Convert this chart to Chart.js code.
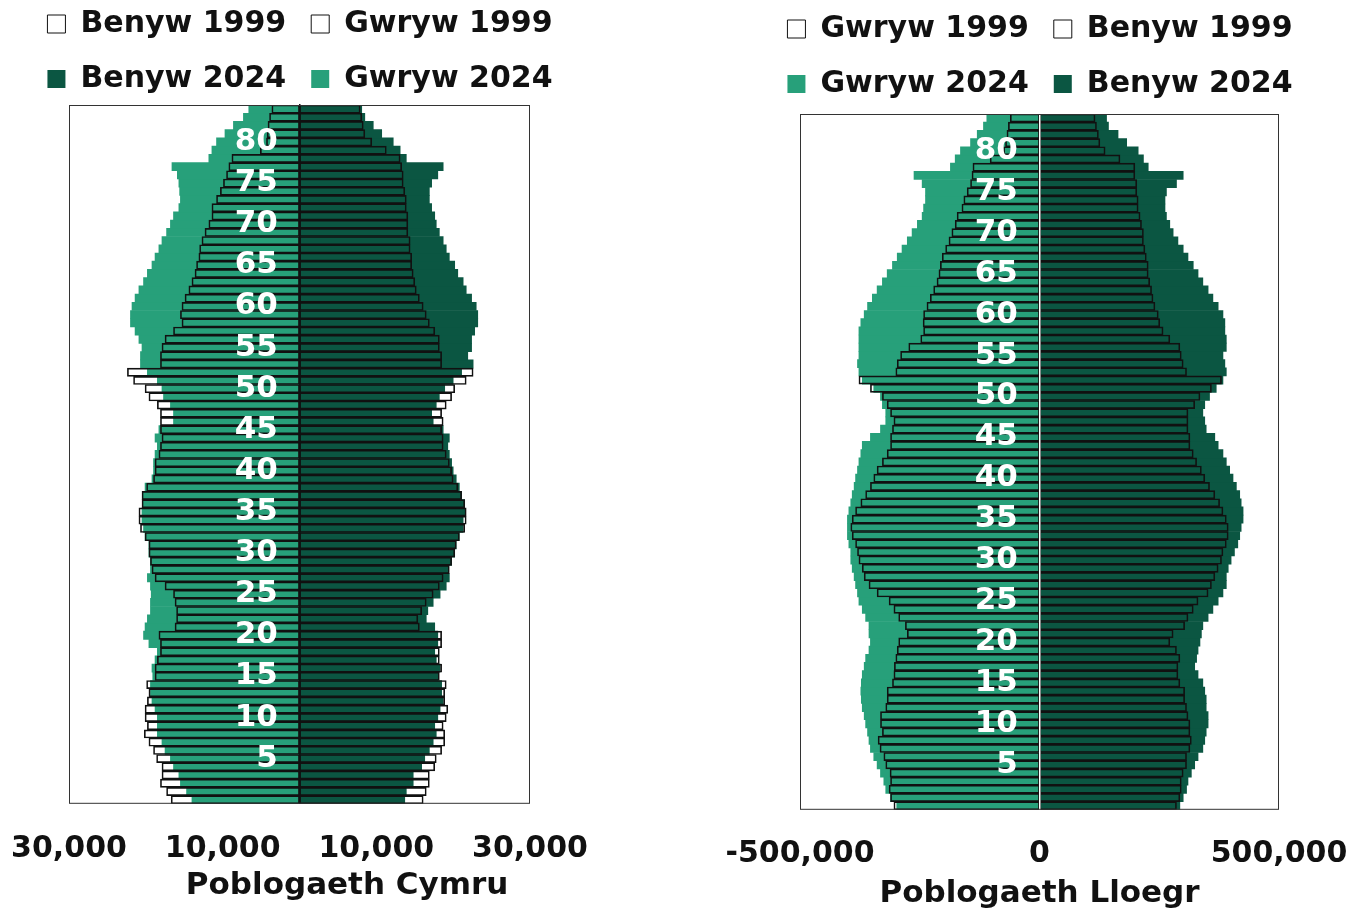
<!DOCTYPE html>
<html>
<head>
<meta charset="utf-8">
<script src="https://cdn.jsdelivr.net/npm/chart.js@4.4.1/dist/chart.umd.min.js"></script>
<style>
  body { margin: 0; width: 1366px; height: 915px; overflow: hidden; background: #fff; }
  #walesChart { position: absolute; left: 0; top: -16px; }
  #englandChart { position: absolute; left: 714px; top: -11px; }
</style>
</head>
<body>
<canvas id="walesChart" width="600" height="921"></canvas>
<canvas id="englandChart" width="652" height="924"></canvas>
<script>
// ages 0..84, bottom to top
var ages = [0,1,2,3,4,5,6,7,8,9,10,11,12,13,14,15,16,17,18,19,20,21,22,23,24,25,26,27,28,29,
  30,31,32,33,34,35,36,37,38,39,40,41,42,43,44,45,46,47,48,49,50,51,52,53,54,55,56,57,58,59,
  60,61,62,63,64,65,66,67,68,69,70,71,72,73,74,75,76,77,78,79,80,81,82,83,84];
var ageTicks = [5,10,15,20,25,30,35,40,45,50,55,60,65,70,75,80];

// Cymru (Wales)
var walesMale2024 = [-14000,-14700,-15500,-15700,-16400,-16800,-17500,-17900,-18500,-18500,
  -18500,-18800,-19200,-19400,-19400,-19100,-19200,-18800,-18500,-19600,
  -20300,-20100,-19800,-19400,-19400,-19300,-19400,-19800,-19400,-19400,
  -19600,-19600,-20100,-20300,-20500,-20500,-20400,-20400,-20100,-19200,
  -19000,-19000,-18800,-18500,-18800,-18300,-16400,-16400,-16800,-17700,
  -17900,-18500,-19800,-20700,-20700,-20500,-20900,-21400,-22000,-22000,
  -21800,-21400,-20900,-20300,-19800,-19200,-18800,-18300,-17900,-17300,
  -16800,-16400,-15700,-15500,-15600,-15700,-15900,-16600,-11800,-11400,
  -10800,-9700,-8600,-7300,-6600];
var walesFemale2024 = [13700,13900,14800,14800,15900,16300,16900,17400,17800,17600,
  18000,18300,18700,18500,18500,18000,18300,17800,17600,18000,
  18000,17600,16500,16700,17400,18300,19100,19500,19300,19800,
  20200,20400,20800,21300,21300,21500,21500,21100,20800,20400,
  20000,19800,19500,19300,19500,18700,17400,17200,17800,18200,
  18900,20000,21100,22600,21900,22400,22400,22800,23200,23200,
  23000,22400,21700,21300,20600,20200,19500,19100,18700,18200,
  17800,17600,17200,16900,16900,17200,18000,18700,13900,13100,
  12200,10700,9600,8500,8100];
var walesMale1999 = [-16700,-17300,-18100,-17900,-17900,-18600,-19000,-19600,-20200,-19800,
  -20100,-20100,-19800,-19600,-19900,-18800,-18800,-18500,-18100,-18100,
  -18300,-16200,-16000,-16000,-16200,-16400,-17500,-18800,-19200,-19400,
  -19600,-19600,-20100,-20700,-20900,-20900,-20500,-20500,-19900,-19000,
  -18800,-18800,-18300,-18100,-17900,-18100,-18100,-18100,-18500,-19600,
  -20100,-21600,-22400,-18100,-18100,-17900,-17500,-16400,-15300,-15500,
  -15300,-14900,-14400,-14000,-13600,-13400,-13100,-13000,-12700,-12300,
  -11800,-11400,-11400,-10800,-10300,-9900,-9500,-9200,-8800,-5100,
  -4300,-4200,-4100,-3900,-3600];
var walesFemale1999 = [16100,16500,16900,16900,17600,17800,18500,18900,18900,18700,
  19100,19300,18900,18900,19100,18200,18500,18200,18200,18500,
  18500,15600,15400,15900,16500,17400,18200,18700,19500,19800,
  20200,20400,20800,21500,21700,21700,21500,21100,20600,20000,
  19800,19500,19100,18700,18700,18500,18700,18500,19100,19800,
  20200,21700,22600,18500,18500,18200,18200,17600,16900,16500,
  16100,15600,15200,15000,14800,14600,14600,14400,14400,14100,
  14100,14100,13900,13900,13700,13500,13500,13300,13100,11300,
  9400,8500,8300,8100,7900];

// Lloegr (England)
var englandMale2024 = [-298000,-311000,-321000,-325000,-332000,-339000,-346000,-353000,-356000,-359000,
  -363000,-366000,-370000,-372000,-373000,-372000,-370000,-366000,-363000,-356000,
  -353000,-356000,-356000,-363000,-370000,-377000,-380000,-384000,-387000,-391000,
  -394000,-394000,-398000,-401000,-401000,-401000,-398000,-394000,-391000,-387000,
  -384000,-380000,-377000,-373000,-370000,-353000,-332000,-321000,-321000,-328000,
  -332000,-346000,-370000,-377000,-380000,-377000,-377000,-377000,-377000,-373000,
  -366000,-359000,-349000,-339000,-328000,-318000,-307000,-297000,-287000,-276000,
  -266000,-255000,-245000,-242000,-238000,-238000,-245000,-262000,-186000,-176000,
  -165000,-144000,-130000,-117000,-110000];
var englandFemale2024 = [293000,300000,307000,310000,317000,324000,331000,341000,345000,348000,
  352000,352000,348000,348000,345000,341000,331000,324000,328000,331000,
  335000,338000,341000,352000,362000,373000,383000,390000,390000,394000,
  400000,407000,414000,418000,421000,425000,425000,421000,418000,411000,
  404000,397000,390000,383000,373000,366000,348000,345000,341000,345000,
  355000,369000,383000,390000,387000,383000,390000,390000,387000,387000,
  383000,373000,362000,352000,341000,331000,321000,310000,300000,289000,
  279000,272000,265000,262000,262000,265000,286000,300000,227000,217000,
  206000,182000,164000,144000,140000];
var englandMale1999 = [-304000,-311000,-314000,-311000,-312000,-321000,-325000,-333000,-337000,-328000,
  -332000,-332000,-321000,-318000,-318000,-307000,-304000,-303000,-300000,-297000,
  -294000,-276000,-280000,-294000,-304000,-314000,-339000,-356000,-366000,-370000,
  -377000,-380000,-384000,-391000,-394000,-391000,-384000,-373000,-363000,-353000,
  -346000,-339000,-328000,-318000,-311000,-311000,-307000,-304000,-311000,-318000,
  -328000,-353000,-377000,-300000,-297000,-290000,-273000,-248000,-242000,-243000,
  -242000,-235000,-228000,-221000,-214000,-210000,-207000,-203000,-196000,-189000,
  -183000,-176000,-172000,-162000,-158000,-151000,-144000,-141000,-139000,-103000,
  -75000,-71000,-68000,-65000,-61000];
var englandFemale1999 = [286000,293000,296000,296000,300000,307000,307000,314000,317000,314000,
  314000,310000,307000,303000,303000,293000,289000,289000,293000,286000,
  272000,279000,303000,310000,321000,331000,352000,359000,366000,373000,
  380000,383000,390000,394000,394000,390000,383000,376000,366000,355000,
  345000,338000,328000,321000,314000,314000,310000,310000,310000,324000,
  335000,359000,380000,307000,300000,296000,293000,272000,258000,251000,
  248000,241000,237000,234000,230000,227000,227000,223000,220000,217000,
  217000,213000,210000,206000,206000,203000,203000,199000,199000,168000,
  137000,126000,123000,119000,116000];

var walesXTicks = [-30000, -10000, 10000, 30000];
var englandXTicks = [-500000, 0, 500000];

var LIGHT = '#27a07a';
var DARK = '#0b5642';
Chart.defaults.font.family = "'DejaVu Sans', sans-serif";

function outline(label, data) {
  return { label: label, data: data, backgroundColor: 'rgba(255,255,255,0)', borderColor: '#111', borderWidth: 1, borderSkipped: false };
}
function filled(label, data, color) {
  return { label: label, data: data, backgroundColor: color, borderWidth: 0 };
}

// box round the plot area
var frame = {
  id: 'frame',
  afterDraw: function(chart) {
    var a = chart.chartArea, ctx = chart.ctx;
    ctx.save();
    ctx.strokeStyle = '#333';
    ctx.lineWidth = 1;
    ctx.strokeRect(a.left + 0.5, a.top + 0.5, a.width - 1, a.height - 1);
    ctx.restore();
  }
};

function legendGap(px) {
  return {
    id: 'legendGap',
    beforeInit: function(chart) {
      var fit = chart.legend.fit;
      chart.legend.fit = function() { fit.call(this); this.height += px; };
    }
  };
}

function pyramid(id, o) {
  return new Chart(id, {
    type: 'bar',
    data: { labels: ages, datasets: o.datasets },
    options: {
      indexAxis: 'y',
      responsive: false,
      animation: false,
      datasets: { bar: { grouped: false, categoryPercentage: 1, barPercentage: 1 } },
      plugins: {
        tooltip: { enabled: false },
        legend: {
          position: 'top',
          labels: { color: '#111', font: { size: 30, weight: 'bold' }, boxWidth: 18, boxHeight: 18, padding: 25 }
        }
      },
      scales: {
        x: {
          min: o.min, max: o.max,
          grid: { display: false, drawTicks: false },
          border: { display: false },
          afterBuildTicks: function(s) { s.ticks = o.xTicks.map(function(v) { return { value: v }; }); },
          afterFit: function(s) { s.paddingLeft = o.padL; s.paddingRight = o.padR; },
          ticks: {
            autoSkip: false, maxRotation: 0, color: '#111', padding: o.tickPad,
            font: { size: 30, weight: 'bold' },
            callback: o.tickLabel
          },
          title: {
            display: true, text: o.title, align: o.titleAlign, color: '#111',
            font: { size: 31, weight: 'bold' }, padding: { top: o.titlePad, bottom: 0 }
          }
        },
        y: {
          type: 'category', reverse: true, position: { x: 0 },
          grid: { display: false, drawTicks: false },
          border: { display: true, color: o.axisColor, width: 1.5, z: 1 },
          ticks: {
            z: 1, autoSkip: false, color: '#fff',
            font: { size: 31, weight: 'bold' },
            callback: function(v) {
              var a = Number(this.getLabelForValue(v));
              // trailing spaces keep the white age labels clear of the centre line
              return ageTicks.indexOf(a) >= 0 ? a + '  ' : '';
            }
          }
        }
      }
    },
    plugins: [frame, legendGap(o.gap)]
  });
}

window.walesChart = pyramid('walesChart', {
  datasets: [
    outline('Benyw 1999', walesFemale1999),
    outline('Gwryw 1999', walesMale1999),
    filled('Benyw 2024', walesFemale2024, DARK),
    filled('Gwryw 2024', walesMale2024, LIGHT)
  ],
  min: -30000, max: 30000, xTicks: walesXTicks,
  tickLabel: function(v) { return Math.abs(v).toLocaleString('en-GB'); },
  padL: 69, padR: 70, tickPad: 27, titlePad: -26, gap: 1,
  title: 'Poblogaeth Cymru  ', titleAlign: 'end', axisColor: '#111'
});

window.englandChart = pyramid('englandChart', {
  datasets: [
    outline('Gwryw 1999', englandMale1999),
    outline('Benyw 1999', englandFemale1999),
    filled('Gwryw 2024', englandMale2024, LIGHT),
    filled('Benyw 2024', englandFemale2024, DARK)
  ],
  min: -500000, max: 500000, xTicks: englandXTicks,
  tickLabel: function(v) { return v.toLocaleString('en-GB'); },
  padL: 86, padR: 87, tickPad: 26, titlePad: -22, gap: 5,
  title: 'Poblogaeth Lloegr', titleAlign: 'center', axisColor: '#fff'
});
</script>
</body>
</html>
